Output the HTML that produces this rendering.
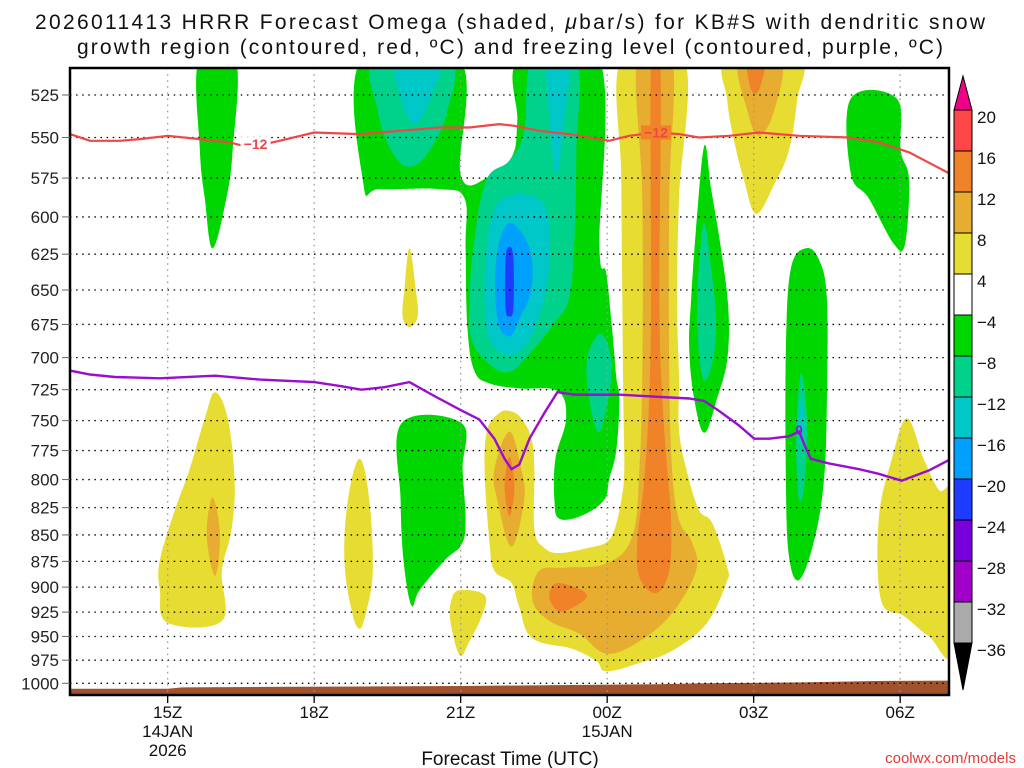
<!DOCTYPE html>
<html><head><meta charset="utf-8">
<style>
html,body{margin:0;padding:0;background:#fff;}
svg{display:block;}
text{font-family:"Liberation Sans",sans-serif;}
</style></head>
<body>
<svg id="chart" width="1024" height="768" viewBox="0 0 1024 768" xmlns="http://www.w3.org/2000/svg">
<text x="510" y="29" text-anchor="middle" font-size="21" fill="#111" textLength="950" lengthAdjust="spacing">2026011413 HRRR Forecast Omega (shaded, <tspan font-style="italic">μ</tspan>bar/s) for KB#S with dendritic snow</text>
<text x="510" y="54" text-anchor="middle" font-size="21" fill="#111" textLength="866" lengthAdjust="spacing">growth region (contoured, red, ºC) and freezing level (contoured, purple, ºC)</text>
<defs><clipPath id="plotclip"><rect x="70" y="68" width="879" height="627"/></clipPath></defs>
<g id="plot" clip-path="url(#plotclip)"></g>
<g id="axes"></g>
<g id="cbar"></g>
<text x="510" y="765" text-anchor="middle" font-size="19" fill="#111">Forecast Time (UTC)</text>
<text x="1016" y="763" text-anchor="end" font-size="15" fill="#e03a3a" font-family="Liberation Mono, monospace">coolwx.com/models</text>
</svg>
<script>
// ---- data ----
const pressureTicks = [525,550,575,600,625,650,675,700,725,750,775,800,825,850,875,900,925,950,975,1000];
const timeTicks = [15,18,21,24,27,30];
const timeTickLabels = [["15Z","14JAN","2026"],["18Z"],["21Z"],["00Z","15JAN"],["03Z"],["06Z"]];
const cbarLevels = ["20","16","12","8","4","−4","−8","−12","−16","−20","−24","−28","−32","−36"];
const cbarColors = ["#ff4646","#f08228","#e6ad30","#e6dc32","#ffffff","#00d700","#00d28c","#00c8c8","#00a0ff","#1e3cff","#7800dc","#a000c8","#aaaaaa"];
// omega shaded regions: [colorIndex, [[hour, hPa], ...]]
const omegaRegions = [
 [5,[[15.64,505],[16.39,505],[16.33,558],[16.2,588],[15.92,621],[15.76,588],[15.66,558]]],
 [5,[[18.97,505],[20.98,505],[21.0,573],[21.59,574],[22.06,561],[22.16,540],[22.2,505],[23.84,505],[23.84,620],[23.98,638],[24.1,678],[24.19,716],[24.25,732],[24.19,774],[24.04,800],[23.94,818],[23.49,832],[23.02,835],[22.92,818],[22.94,782],[23.16,748],[22.98,726],[22.2,724],[21.59,720],[21.28,710],[21.14,678],[21.1,621],[21.08,588],[20.57,582],[19.34,582],[19.01,579]]],
 [6,[[19.24,505],[20.77,505],[20.73,534],[20.36,558],[19.95,568],[19.58,558],[19.3,534]]],
 [7,[[19.69,505],[20.57,505],[20.36,528],[20.06,542],[19.79,528]]],
 [6,[[22.47,505],[23.37,505],[23.37,558],[23.33,615],[23.22,656],[22.92,674],[22.41,697],[22.0,711],[21.59,705],[21.22,686],[21.18,656],[21.28,615],[21.53,576],[22.0,564],[22.3,546]]],
 [7,[[22.78,505],[23.22,505],[23.12,540],[22.96,573],[22.82,540]]],
 [7,[[22.0,586],[22.51,587],[22.78,598],[22.82,628],[22.71,656],[22.41,686],[22.0,698],[21.59,686],[21.49,656],[21.53,621],[21.69,595]]],
 [8,[[22.0,604],[22.41,621],[22.45,649],[22.2,671],[22.0,684],[21.75,671],[21.73,628]]],
 [9,[[22.0,620],[22.08,628],[22.08,663],[22.0,669],[21.92,663],[21.92,628]]],
 [6,[[23.84,682],[24.04,693],[24.08,716],[23.94,748],[23.8,759],[23.63,732],[23.59,701]]],
 [5,[[25.99,555],[26.13,582],[26.33,621],[26.48,663],[26.46,701],[26.25,732],[25.99,760],[25.78,732],[25.68,693],[25.72,656],[25.82,608]]],
 [6,[[25.99,604],[26.13,635],[26.23,671],[26.17,701],[26.0,718],[25.89,701],[25.84,663],[25.89,628]]],
 [5,[[28.07,621],[28.34,629],[28.5,656],[28.5,732],[28.44,800],[28.24,855],[27.93,893],[27.72,869],[27.66,800],[27.66,693],[27.76,635]]],
 [6,[[27.97,712],[28.09,748],[28.05,800],[27.93,818],[27.87,765]]],
 [7,[[27.97,732],[28.03,752],[27.97,769],[27.91,752]]],
 [5,[[28.99,527],[29.93,527],[30.01,558],[30.18,576],[30.1,618],[29.87,618],[29.36,588],[28.99,572]]],
 [5,[[19.79,752],[21.02,752],[21.04,791],[21.1,836],[21.02,859],[20.67,874],[20.16,903],[19.99,918],[19.83,874],[19.77,818]]],
 [3,[[15.97,727],[16.23,748],[16.37,800],[16.31,845],[16.11,884],[16.11,934],[15.0,936],[14.84,903],[14.84,874],[15.15,827],[15.45,791],[15.76,748]]],
 [2,[[15.92,816],[16.07,850],[15.97,889],[15.8,850]]],
 [3,[[18.93,782],[19.13,818],[19.2,884],[19.07,924],[18.93,942],[18.77,924],[18.62,874],[18.69,818]]],
 [3,[[19.95,621],[20.08,649],[20.12,669],[19.95,677],[19.81,669],[19.85,649]]],
 [3,[[20.98,903],[21.49,908],[21.43,929],[21.18,955],[20.98,970],[20.79,934],[20.81,913]]],
 [3,[[24.29,505],[25.58,505],[25.47,588],[25.43,656],[25.47,715],[25.47,757],[25.62,791],[25.88,827],[26.15,839],[26.46,881],[26.44,896],[26.03,937],[25.33,965],[24.66,978],[23.98,987],[23.78,976],[23.29,963],[22.47,952],[22.2,920],[22.04,896],[21.69,884],[21.59,857],[21.49,791],[21.55,757],[21.79,744],[22.0,742],[22.24,748],[22.45,765],[22.51,791],[22.51,845],[22.71,862],[23.02,867],[23.63,862],[23.98,857],[24.15,845],[24.29,818],[24.35,791],[24.33,732],[24.31,656],[24.29,575]]],
 [2,[[24.62,505],[25.33,505],[25.27,588],[25.27,709],[25.33,791],[25.47,836],[25.74,857],[25.82,884],[25.33,926],[24.66,955],[23.98,968],[23.43,947],[22.82,934],[22.47,913],[22.61,884],[23.16,881],[23.98,877],[24.51,852],[24.66,791],[24.72,709],[24.72,588]]],
 [1,[[24.9,505],[25.09,505],[25.07,656],[25.13,732],[25.23,791],[25.31,836],[25.27,884],[25.0,906],[24.66,890],[24.62,855],[24.76,800],[24.86,732],[24.9,656]]],
 [1,[[23.02,896],[23.59,908],[23.12,924],[22.88,918],[22.82,905]]],
 [2,[[22.0,759],[22.24,791],[22.3,818],[22.04,861],[21.75,818],[21.69,791]]],
 [1,[[22.0,780],[22.1,806],[22.0,833],[21.9,806]]],
 [3,[[26.46,505],[27.93,505],[27.89,528],[27.72,558],[27.42,579],[27.05,598],[26.8,576],[26.6,552],[26.46,528]]],
 [2,[[26.7,505],[27.56,505],[27.42,534],[27.11,549],[26.87,534]]],
 [1,[[26.87,505],[27.23,505],[27.11,522],[26.95,522]]],
 [3,[[30.14,748],[30.48,782],[30.79,809],[31.1,818],[31.1,965],[30.59,950],[30.08,929],[29.61,913],[29.56,836],[29.83,782]]]
];
const dgzHours = [13,13.41,14.02,14.43,15,15.66,16.27,16.68,17.29,18,18.93,19.75,20.57,21.18,21.79,22.1,22.61,23.22,23.84,24.04,24.45,25,25.47,25.88,26.5,27.11,27.93,28.95,29.56,30.18,30.69,31];
const dgzPres = [548,552,552,551,549,551,553,556,552,547,548,546,544,544,542,543,546,548,551,552,549,547,548,550,549,547,549,550,553,559,567,572];
const frzHours = [13,13.41,13.92,14.84,15.97,16.89,18,18.52,18.97,19.44,19.95,20.46,20.98,21.38,21.69,21.9,22.04,22.2,22.41,22.71,22.98,23.33,24.25,25.68,25.99,26.29,26.7,27.01,27.32,27.72,27.93,28.05,28.17,28.54,29.16,29.56,30.03,30.59,31];
const frzPres = [710,713,715,716,714,717,719,722,725,723,719,730,741,749,765,782,791,787,765,744,727,729,729,732,734,742,754,765,765,763,759,771,782,786,791,795,801,792,783];
const groundHours = [13,15,15.3,17,19,21,23,25,26,28,29.5,31];
const groundPres = [1006,1006,1004.5,1004,1003.5,1003,1002,1001,1000,999,997.5,997];

// ---- scales ----
const X0=70,X1=949,Y0=68,Y1=695;
const xs = h => X0 + (h-13)*(X1-X0)/18;
const ys = p => 95 + 913*Math.log(p/525);
const NS="http://www.w3.org/2000/svg";
function mk(tag,attrs,parent){const e=document.createElementNS(NS,tag);for(const k in attrs)e.setAttribute(k,attrs[k]);parent.appendChild(e);return e;}
function smoothClosed(pts){
  const n=pts.length;let d=`M${pts[0][0].toFixed(1)},${pts[0][1].toFixed(1)}`;
  const t=0.18;
  for(let i=0;i<n;i++){
    const p0=pts[(i-1+n)%n],p1=pts[i],p2=pts[(i+1)%n],p3=pts[(i+2)%n];
    const c1=[p1[0]+(p2[0]-p0[0])*t,p1[1]+(p2[1]-p0[1])*t];
    const c2=[p2[0]-(p3[0]-p1[0])*t,p2[1]-(p3[1]-p1[1])*t];
    d+=`C${c1[0].toFixed(1)},${c1[1].toFixed(1)} ${c2[0].toFixed(1)},${c2[1].toFixed(1)} ${p2[0].toFixed(1)},${p2[1].toFixed(1)}`;
  }
  return d+"Z";
}
const plot=document.getElementById('plot');
const axes=document.getElementById('axes');
const cbar=document.getElementById('cbar');

omegaRegions.forEach((r,i)=>{
  const pts=r[1].map(q=>[xs(q[0]),ys(q[1])]);
  const el=mk('path',{d:smoothClosed(pts),fill:cbarColors[r[0]]},plot);
  
  
});
// ground
{
  let d=`M${xs(groundHours[0])-2},${Y1+2}`;
  groundHours.forEach((h,i)=>{d+=`L${(xs(h)+(i===0?-2:0)).toFixed(1)},${ys(groundPres[i]).toFixed(1)}`;});
  d+=`L${xs(groundHours[groundHours.length-1])+2},${Y1+2}Z`;
  const g=mk('path',{d:d,fill:'#a0522d'},plot);
  
  
}
// grid
pressureTicks.forEach(p=>{
  const l=mk('line',{x1:X0,x2:X1,y1:ys(p),y2:ys(p),stroke:'#000','stroke-width':1.3,'stroke-dasharray':'1.5,4.6'},plot);
  
  
});
timeTicks.forEach(h=>{
  const l=mk('line',{x1:xs(h),x2:xs(h),y1:Y0,y2:Y1,stroke:'#999','stroke-width':1.3,'stroke-dasharray':'1.5,4.6'},plot);
  
  
});
// contour lines
function linePath(hs,ps){return hs.map((h,i)=>(i?'L':'M')+xs(h).toFixed(1)+','+ys(ps[i]).toFixed(1)).join('');}
const dgz=mk('path',{d:linePath(dgzHours,dgzPres),fill:'none',stroke:'#f04646','stroke-width':2.2},plot);


const frz=mk('path',{d:linePath(frzHours,frzPres),fill:'none',stroke:'#9a0ed0','stroke-width':2.4},plot);


[[16.8,554],[25.0,547]].forEach((q,i)=>{
  const bg=mk('rect',{x:xs(q[0])-15,y:ys(q[1])-7,width:30,height:14,fill:i===0?'#fff':'#f08228'},plot);
  
  
  const t=mk('text',{x:xs(q[0]),y:ys(q[1])+5,'text-anchor':'middle','font-size':14,'font-weight':'bold',fill:'#f04646'},plot);
  t.textContent='−12';
  
  
});
{
  const t=mk('text',{x:xs(27.93),y:ys(759)+3,'text-anchor':'middle','font-size':13,'font-weight':'bold',fill:'#9a0ed0'},plot);
  t.textContent='0';
  
  
}
// frame & axes
{
  const f=mk('rect',{x:X0,y:Y0,width:X1-X0,height:Y1-Y0,fill:'none',stroke:'#000','stroke-width':2.5},axes);
  
  
}
pressureTicks.forEach(p=>{
  mk('line',{x1:62,x2:70,y1:ys(p),y2:ys(p),stroke:'#666','stroke-width':1},axes);
  const t=mk('text',{x:59,y:ys(p)+6,'text-anchor':'end','font-size':17,fill:'#222'},axes);
  t.textContent=p;
  
  
});
timeTicks.forEach((h,i)=>{
  mk('line',{x1:xs(h),x2:xs(h),y1:Y1,y2:Y1+8,stroke:'#000','stroke-width':1.3},axes);
  timeTickLabels[i].forEach((s,j)=>{
    const t=mk('text',{x:xs(h),y:718+j*19,'text-anchor':'middle','font-size':17,fill:'#111'},axes);
    t.textContent=s;
    
    
  });
});
// color bar
const CBX=954,CBW=18,CBT=110,CBH=41;
{
  const top=mk('path',{d:`M${CBX},${CBT}L${CBX+CBW/2},76L${CBX+CBW},${CBT}Z`,fill:'#ee0088',stroke:'#000','stroke-width':1},cbar);
  
  
  const bot=CBT+cbarColors.length*CBH;
  const b=mk('path',{d:`M${CBX},${bot}L${CBX+CBW/2},690L${CBX+CBW},${bot}Z`,fill:'#000',stroke:'#000','stroke-width':1},cbar);
  
  
}
cbarColors.forEach((c,i)=>{
  const r=mk('rect',{x:CBX,y:CBT+i*CBH,width:CBW,height:CBH,fill:c,stroke:'#000','stroke-width':1},cbar);
  
  
});
cbarLevels.forEach((s,i)=>{
  const t=mk('text',{x:977,y:CBT+i*CBH+13,'font-size':17,fill:'#111'},cbar);
  t.textContent=s;
  
  
});
</script>
</body></html>
